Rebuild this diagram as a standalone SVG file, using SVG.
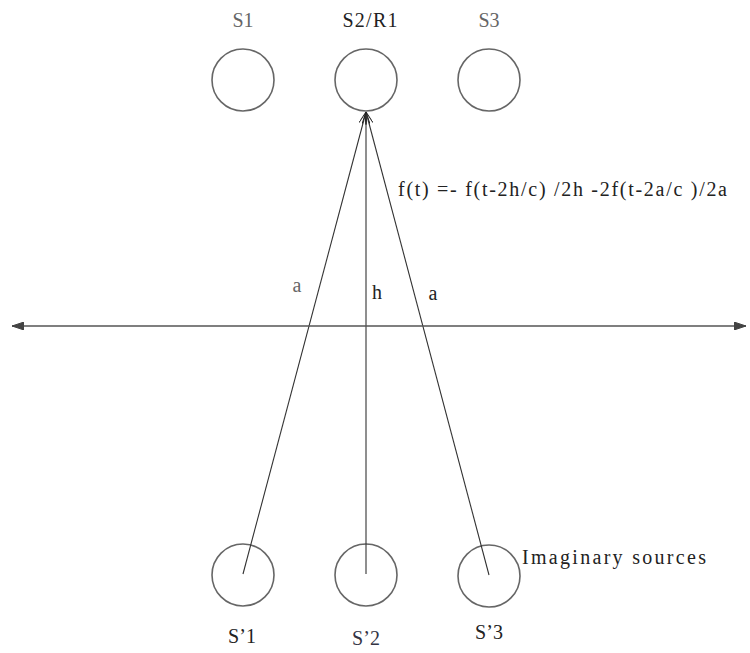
<svg xmlns="http://www.w3.org/2000/svg" width="750" height="653" viewBox="0 0 750 653">
<defs>
<marker id="ah" viewBox="0 0 12 8" refX="12" refY="4" markerWidth="12" markerHeight="8" markerUnits="userSpaceOnUse" orient="auto">
<path d="M0,0 L12,4 L0,8" fill="none" stroke="#222" stroke-width="1"/>
</marker>
<marker id="ahs" viewBox="0 0 12 8" refX="12" refY="4" markerWidth="12" markerHeight="8" markerUnits="userSpaceOnUse" orient="auto-start-reverse">
<path d="M0,0 L12,4 L0,8 Z" fill="#444" stroke="#444" stroke-width="1"/>
</marker>
</defs>
<style>
.c{fill:none;stroke:#666;stroke-width:1.6}
.l{fill:none;stroke:#333;stroke-width:1.1}
.t{font-family:"Liberation Serif","Times New Roman",serif;font-size:20px;fill:#222}
.g{fill:#666}
</style>
<rect width="750" height="653" fill="#fff"/>
<g id="S1"><circle class="c" cx="243" cy="80" r="31"/><text class="t g" x="243" y="27" text-anchor="middle">S1</text></g>
<g id="S2R1"><circle class="c" cx="366" cy="80" r="31"/><text class="t" x="370" y="27" text-anchor="middle" textLength="55" lengthAdjust="spacing">S2/R1</text></g>
<g id="S3"><circle class="c" cx="489" cy="80" r="31"/><text class="t g" x="489" y="27" text-anchor="middle">S3</text></g>
<g id="Sp1"><circle class="c" cx="243" cy="575" r="31"/><text class="t" x="242" y="643" text-anchor="middle">S’1</text></g>
<g id="Sp2"><circle class="c" cx="366" cy="575" r="31"/><text class="t" x="366" y="645" text-anchor="middle" style="fill:#334">S’2</text></g>
<g id="Sp3"><circle class="c" cx="489" cy="576" r="31"/><text class="t" x="489" y="639" text-anchor="middle">S’3</text></g>
<g id="connectors">
<line class="l" x1="243" y1="574" x2="366" y2="112" marker-end="url(#ah)"/>
<line class="l" x1="366" y1="574" x2="366" y2="112" marker-end="url(#ah)"/>
<line class="l" x1="489" y1="575" x2="366" y2="112" marker-end="url(#ah)"/>
<line x1="12" y1="326" x2="746" y2="326" stroke="#555" stroke-width="1.4" marker-start="url(#ahs)" marker-end="url(#ahs)"/>
</g>
<g id="labels">
<text class="t" x="398" y="196" textLength="329" lengthAdjust="spacing">f(t) =- f(t-2h/c) /2h -2f(t-2a/c )/2a</text>
<text class="t g" x="297" y="292" text-anchor="middle">a</text>
<text class="t" x="377" y="299" text-anchor="middle">h</text>
<text class="t" x="433" y="300" text-anchor="middle">a</text>
<text class="t" x="522" y="564" textLength="184" lengthAdjust="spacing">Imaginary sources</text>
</g>
</svg>
